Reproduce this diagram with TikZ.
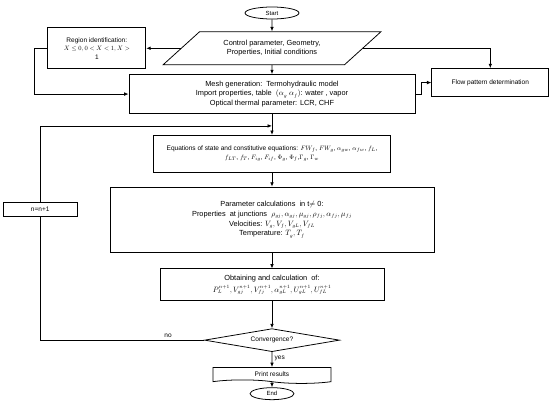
\documentclass[tikz,border=0pt]{standalone}
\usepackage{fontspec}
\setmainfont{Liberation Sans}
\usetikzlibrary{shapes.geometric, shapes.symbols, arrows.meta, positioning, calc}

\begin{document}
\begin{tikzpicture}[
        node distance=0.6cm,
        font=\fontsize{10.5}{13}\selectfont,
        line width=1.1pt,
        box/.style={draw, rectangle, align=center, inner sep=2pt},
        small/.style={font=\fontsize{9.3}{12}\selectfont},
        io/.style={draw, trapezium, trapezium left angle=39, trapezium right angle=141,
            trapezium stretches=true, align=center, minimum width=10.9cm, minimum height=1.65cm},
        term/.style={draw, ellipse, inner sep=0pt, minimum height=0.6cm, font=\fontsize{8.5}{10}\selectfont},
        dec/.style={draw, diamond, aspect=5.9, inner sep=0pt, minimum width=6.75cm, minimum height=1.15cm, small},
        doc/.style={draw, tape, tape bend top=none, tape bend bottom=out and in, tape bend height=5pt,
            align=center, minimum width=5.9cm, minimum height=0.8cm, small},
        rel/.style={-{Latex[length=2.2mm, width=1.8mm]}}
    ]
        \useasboundingbox (-13.6,0.65) rectangle (13.9,-19.55);
        \node[term, minimum width=2.7cm] (start) {Start};
        \node[io, below=0.6cm of start] (input) {Control parameter, Geometry,\\Properties, Initial conditions};
        \node[box, small, left=1.725cm of input, minimum width=4.9cm, minimum height=2.05cm] (region)
            {Region identification:\\$X \leq 0, 0 < X < 1, X >$\\1};
        \node[box, below=0.45cm of input, minimum width=14.3cm, minimum height=1.95cm] (mesh)
            {Mesh generation:\ \ Termohydraulic model\\
             Import properties, table\ \ $(\alpha_g\ \alpha_f)$: water , vapor\\
             Optical thermal parameter: LCR, CHF};
        \node[box, small, right=0.8cm of mesh, yshift=0.575cm, minimum width=5.85cm, minimum height=1.4cm] (flow)
            {Flow pattern determination};
        \node[box, small, below=1.05cm of mesh, minimum width=11.85cm, minimum height=1.85cm] (eq)
            {Equations of state and constitutive equations: $FW_f$, $FW_g$, $\alpha_{gw}$, $\alpha_{fw}$, $f_L$,\\[1pt]
             $f_{LT}$, $f_T$, $F_{ig}$, $F_{if}$, $\Phi_g$, $\Phi_f$,$\Gamma_g$, $\Gamma_w$};
        \node[box, below=0.7cm of eq, minimum width=16.2cm, minimum height=3.25cm] (param)
            {Parameter calculations\ \ in t$\neq$ 0:\\[1pt]
             Properties\ \ at junctions\ \ $\rho_{gj}, \alpha_{gj}, \mu_{gj}, \rho_{fj}, \alpha_{fj}, \mu_{fj}$\\[1pt]
             Velocities: $V_g, V_f, V_{gL}, V_{fL}$\\[1pt]
             Temperature: $T_g, T_f$};
        \node[box, small, left=1.6cm of param, yshift=0.525cm, minimum width=3.7cm, minimum height=0.7cm] (upd) {n=n+1};
        \node[box, below=0.8cm of param, minimum width=11.2cm, minimum height=1.6cm] (obt)
            {Obtaining and calculation\ \ of:\\[4pt]
             $P_L^{n+1}, V_{gj}^{n+1}, V_{fj}^{n+1}, \alpha_{gL}^{n+1}, U_{gL}^{n+1}, U_{fL}^{n+1}$};
        \node[dec, below=1.35cm of obt] (conv) {Convergence?};
        \node[doc, below=0.75cm of conv] (print) {Print results};
        \node[term, minimum width=2.2cm, below=0.35cm of print] (end) {End};
        \coordinate (back) at ($(mesh.south)!0.57!(eq.north)$);
        % connectors
        \draw[rel] (start) -- (input);
        \draw[rel] (input) -- (mesh);
        \draw[rel] (input.west) -- (input.west -| region.east);
        \draw[rel] (region.west) -- ++(-0.65cm,0) |- (mesh.west);
        \draw[rel] (input.east) -| (flow.north);
        \draw[rel] (mesh.east) -- ++(0.3cm,0) |- (flow.west);
        \draw[rel] (mesh) -- (eq);
        \draw[rel] (upd.north) |- (back);
        \draw[rel] (eq) -- (param);
        \draw[rel] (param) -- (obt);
        \draw[rel] (obt) -- (conv);
        \draw[rel] (conv) -- node[right, small, pos=0.45] {yes} (print);
        \draw (conv.west) -| node[pos=0.11, above, small] {no} (upd.south);
        \draw[rel] (print) -- (end);
    \end{tikzpicture}
\end{document}
